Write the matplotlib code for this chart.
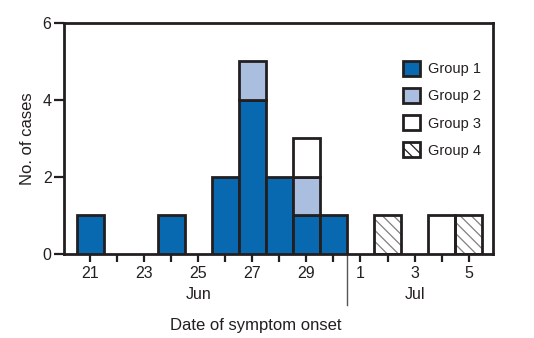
import matplotlib
matplotlib.use("Agg")
import matplotlib.pyplot as plt
import matplotlib.transforms as mtransforms
from matplotlib.patches import Patch
import numpy as np

# Day numbers: Jun 21 = 21 ... Jul 1 = 31 ... Jul 5 = 35
days = np.arange(21, 36)
group1 = [1, 0, 0, 1, 0, 2, 4, 2, 1, 1, 0, 0, 0, 0, 0]
group2 = [0, 0, 0, 0, 0, 0, 1, 0, 1, 0, 0, 0, 0, 0, 0]
group3 = [0, 0, 0, 0, 0, 0, 0, 0, 1, 0, 0, 0, 0, 1, 0]
group4 = [0, 0, 0, 0, 0, 0, 0, 0, 0, 0, 0, 1, 0, 0, 1]

tick_days = [21, 23, 25, 27, 29, 31, 33, 35]
tick_labels = ["21", "23", "25", "27", "29", "1", "3", "5"]
months = ["Jun", "Jul"]
month_pos = [25, 33]

plt.rcParams["font.family"] = ["Liberation Sans", "DejaVu Sans"]
plt.rcParams["font.size"] = 11.5
plt.rcParams["hatch.linewidth"] = 0.9

dark = "#231f20"
blue = "#0868b0"
light = "#aabfe0"
edge_w = 2.0

fig = plt.figure(figsize=(5.34, 3.38), dpi=100)
ax = fig.add_axes([0.12, 0.249, 0.803, 0.683])

g1 = np.array(group1)
g2 = np.array(group2)
g3 = np.array(group3)
g4 = np.array(group4)

def draw(vals, bottom, color, hatch=None):
    mask = vals > 0
    if hatch:
        ax.bar(days[mask], vals[mask], 1.0, bottom=bottom[mask], color="white",
               edgecolor="#808080", hatch=hatch, linewidth=0, zorder=2)
        ax.bar(days[mask], vals[mask], 1.0, bottom=bottom[mask], fill=False,
               edgecolor=dark, linewidth=edge_w, zorder=3)
    else:
        ax.bar(days[mask], vals[mask], 1.0, bottom=bottom[mask], color=color,
               edgecolor=dark, linewidth=edge_w, zorder=3)

base = np.zeros(len(days))
draw(g1, base, blue)
base = base + g1
draw(g2, base, light)
base = base + g2
draw(g3, base, "white")
base = base + g3
draw(g4, base, "white", hatch="\\" * 3)

ax.set_xlim(20.03, 35.9)
ax.set_ylim(0, 6)
ax.set_yticks([0, 2, 4, 6])
ax.set_xticks(tick_days)
ax.set_xticklabels(tick_labels)
ax.set_xticks([d for d in days if d not in tick_days], minor=True)
ax.tick_params(axis="x", which="both", direction="out", length=6, width=1.6,
               color=dark, labelcolor=dark, pad=3)
ax.tick_params(axis="y", direction="out", length=7, width=1.6, color=dark,
               labelcolor=dark, pad=2)
for s in ax.spines.values():
    s.set_linewidth(2)
    s.set_color(dark)

trans = mtransforms.blended_transform_factory(ax.transData, ax.transAxes)
ax.plot([30.5, 30.5], [0, -0.22], color="#555555", lw=1, transform=trans,
        clip_on=False)
for m, p in zip(months, month_pos):
    ax.text(p, -0.175, m, transform=trans, ha="center", va="center", color=dark)

ax.set_xlabel("Date of symptom onset", color=dark, fontsize=12)
ax.xaxis.set_label_coords(0.448, -0.28)
ax.set_ylabel("No. of cases", color=dark, fontsize=12)
ax.yaxis.set_label_coords(-0.068, 0.5)

handles = [
    Patch(facecolor=blue, edgecolor=dark, linewidth=edge_w, label="Group 1"),
    Patch(facecolor=light, edgecolor=dark, linewidth=edge_w, label="Group 2"),
    Patch(facecolor="white", edgecolor=dark, linewidth=edge_w, label="Group 3"),
    Patch(facecolor="white", edgecolor=dark, linewidth=edge_w, hatch="\\" * 3,
          label="Group 4"),
]
leg = ax.legend(handles=handles, loc="upper left", bbox_to_anchor=(0.79, 0.835),
                frameon=False, borderpad=0, handlelength=1.15, handleheight=1.15,
                handletextpad=0.55, labelspacing=0.82, borderaxespad=0,
                fontsize=10.5)
for t in leg.get_texts():
    t.set_color(dark)

fig.savefig("out.png", dpi=100)
